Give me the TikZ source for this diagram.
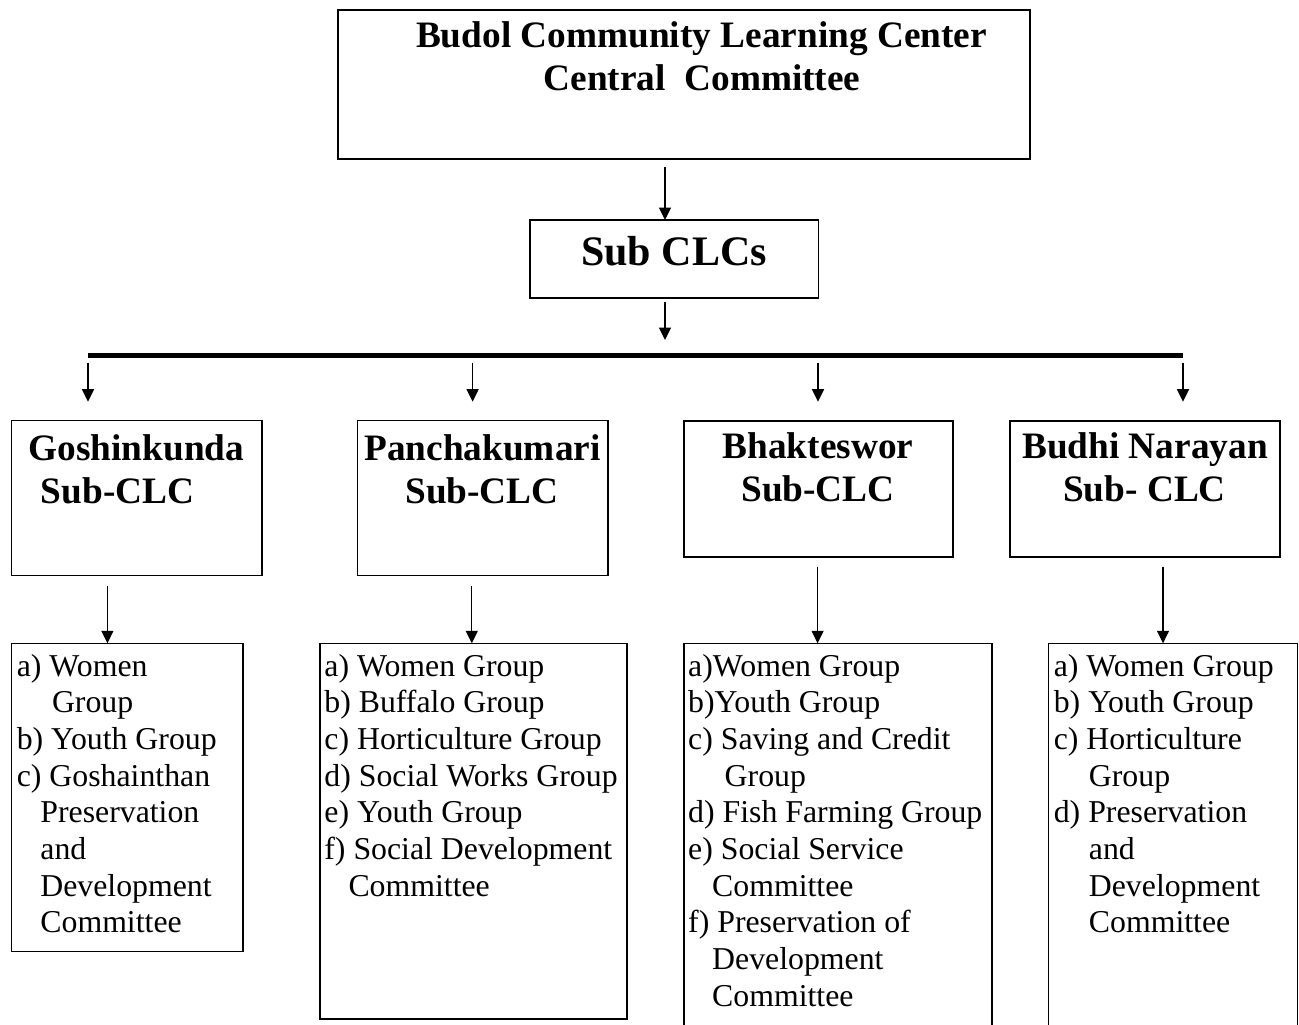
\documentclass[tikz,border=0pt]{standalone}
\usepackage{fontspec}
\setmainfont{Liberation Serif}
\usetikzlibrary{arrows.meta}
\tikzset{
  box/.style={draw, line width=1.3pt, inner sep=0pt, outer sep=0pt, anchor=north west},
  arr/.style={line width=1.2pt, -{Triangle[width=12pt,length=12.5pt]}},
  bar/.style={line width=5pt},
  ttl/.style={font=\fontsize{37.3}{43}\selectfont\bfseries, inner sep=0pt, anchor=base},
  big/.style={font=\fontsize{42}{48}\selectfont\bfseries, inner sep=0pt, anchor=base},
  itm/.style={font=\fontsize{31.8}{36.7}\selectfont, inner sep=0pt, anchor=base west},
}
\begin{document}
\begin{tikzpicture}[x=1pt,y=-1pt]
\useasboundingbox (0,0) rectangle (1299,1025);
\clip (0,0) rectangle (1299,1025);
\fill[white] (0,0) rectangle (1299,1025);

% boxes
\node[box, minimum width=692pt, minimum height=149pt] (top) at (338,10) {};
\node[box, minimum width=288.5pt, minimum height=78pt] (sub) at (530,220) {};
\node[box, minimum width=250.4pt, minimum height=155pt] (gos) at (11.6,420.7) {};
\node[box, minimum width=250.6pt, minimum height=155pt] (pan) at (357.4,420.7) {};
\node[box, minimum width=269pt, minimum height=136pt] (bha) at (684,421) {};
\node[box, minimum width=270pt, minimum height=136pt] (bud) at (1010,421) {};
\node[box, minimum width=231.4pt, minimum height=308.4pt] (gosl) at (11.6,643.3) {};
\node[box, minimum width=307pt, minimum height=375.7pt] (panl) at (320,643.3) {};
\node[box, minimum width=308pt, minimum height=420pt] (bhal) at (684,643.3) {};
\node[box, minimum width=248.7pt, minimum height=420pt] (budl) at (1048.6,643.3) {};

% titles
\node[ttl] (t1) at (701.5,48) {Budol Community Learning Center};
\node[ttl] (t2) at (702,91) {Central\ \ Committee};
\node[big] (t3) at (674,265) {Sub CLCs};
\node[ttl] (g1) at (136.5,460) {Goshinkunda};
\node[ttl] (g2) at (117.5,503) {Sub-CLC};
\node[ttl] (p1) at (482.5,460) {Panchakumari};
\node[ttl] (p2) at (482,503) {Sub-CLC};
\node[ttl] (b1) at (818,458) {Bhakteswor};
\node[ttl] (b2) at (818,501.7) {Sub-CLC};
\node[ttl] (u1) at (1145,458) {Budhi Narayan};
\node[ttl] (u2) at (1144.5,501.7) {Sub- CLC};

% lists
\foreach \px/\t [count=\i from 0] in {16.6/a) Women, 51.8/Group, 16.6/b) Youth Group, 16.6/c) Goshainthan, 40.2/Preservation, 40.2/and, 40.2/Development, 40.2/Committee}
  \node[itm] (gi\i) at (\px,676+36.7*\i) {\t};
\foreach \px/\t [count=\i from 0] in {324.2/a) Women Group, 324.2/b) Buffalo Group, 324.2/c) Horticulture Group, 324.2/d) Social Works Group, 324.2/e) Youth Group, 324.2/f) Social Development, 348.3/Committee}
  \node[itm] (pi\i) at (\px,676+36.7*\i) {\t};
\foreach \px/\t [count=\i from 0] in {688/a)Women Group, 688/b)Youth Group, 688/c) Saving and Credit, 724.5/Group, 688/d) Fish Farming Group, 688/e) Social Service, 712/Committee, 688/f) Preservation of, 712/Development, 712/Committee}
  \node[itm] (bi\i) at (\px,676+36.7*\i) {\t};
\foreach \px/\t [count=\i from 0] in {1053.6/a) Women Group, 1053.6/b) Youth Group, 1053.6/c) Horticulture, 1088.7/Group, 1053.6/d) Preservation, 1088.7/and, 1088.7/Development, 1088.7/Committee}
  \node[itm] (ui\i) at (\px,676+36.7*\i) {\t};

% connectors
\coordinate (a1) at (665,167);
\draw[arr] (a1) -- (a1 |- sub.north);
\coordinate (a2s) at (665,302);
\coordinate (a2e) at (665,340);
\draw[arr] (a2s) -- (a2e);
\coordinate (barL) at (88,355.7);
\coordinate (barR) at (1183,355.7);
\draw[bar] (barL) -- (barR);
\foreach \x [count=\k] in {88,472.6,818,1183}{
  \coordinate (bs\k) at (\x,362.7);
  \coordinate (be\k) at (\x,401.7);
  \draw[arr] (bs\k) -- (be\k);
}
\coordinate (c1) at (107.4,586);
\draw[arr] (c1) -- (c1 |- gosl.north);
\coordinate (c2) at (471.8,586);
\draw[arr] (c2) -- (c2 |- panl.north);
\coordinate (c3) at (817.6,566.7);
\draw[arr] (c3) -- (c3 |- bhal.north);
\coordinate (c4) at (1163,566.7);
\draw[arr] (c4) -- (c4 |- budl.north);
\end{tikzpicture}
\end{document}
